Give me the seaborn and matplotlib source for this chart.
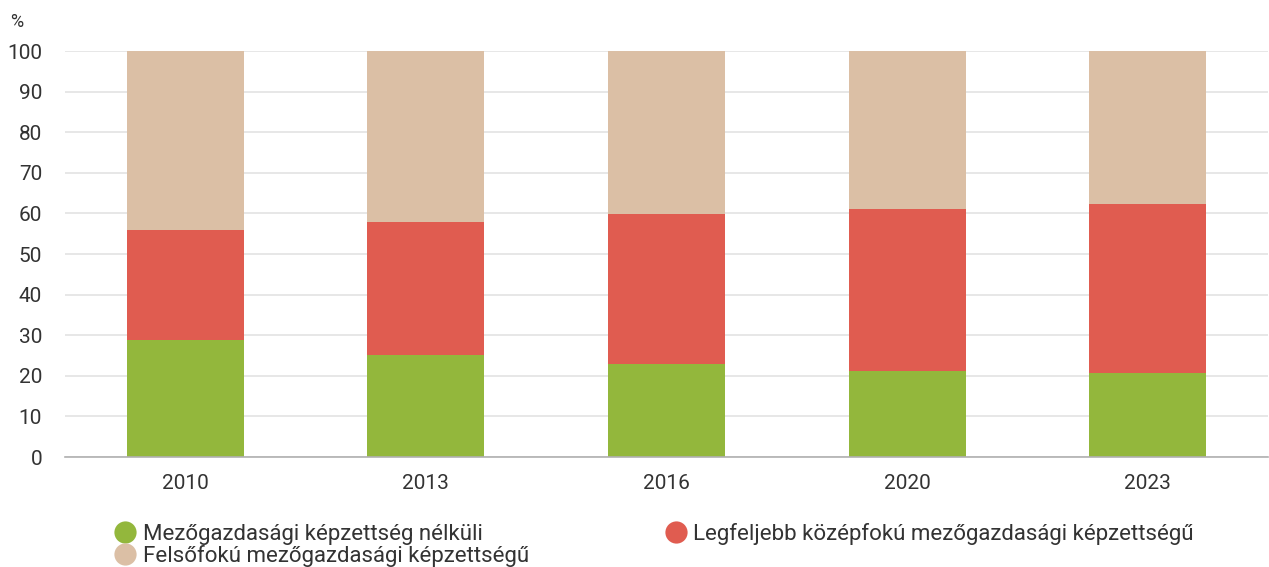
import matplotlib
matplotlib.use("Agg")
import matplotlib.pyplot as plt
import seaborn as sns
import numpy as np
from matplotlib.lines import Line2D

sns.set_theme(style="white")
plt.rcParams['font.family'] = ['Roboto', 'DejaVu Sans']

# adatok
years = ["2010", "2013", "2016", "2020", "2023"]
nelkuli = [28.7, 25.2, 22.9, 21.2, 20.8]
kozepfoku = [27.1, 32.7, 36.9, 39.8, 41.4]
felsofoku = [44.2, 42.1, 40.2, 39.0, 37.8]

labels = [
    "Mezőgazdasági képzettség nélküli",
    "Legfeljebb középfokú mezőgazdasági képzettségű",
    "Felsőfokú mezőgazdasági képzettségű",
]
colors = ["#93b73c", "#e05c50", "#dbbfa5"]

fig = plt.figure(figsize=(12.69, 5.67), dpi=100)
ax = fig.add_axes([0.0512, 0.194, 0.948, 0.716])

bottom = np.zeros(len(years))
for vals, col in zip([nelkuli, kozepfoku, felsofoku], colors):
    sns.barplot(x=years, y=vals, bottom=bottom, color=col, width=0.486,
                saturation=1, linewidth=0, ax=ax)
    bottom = bottom + np.array(vals)

ax.set_ylim(0, 100)
ax.set_xlim(-0.5, len(years) - 0.5)
ax.set_yticks(range(0, 101, 10))
ax.yaxis.grid(True, color="#e3e3e3", linewidth=1.2)
ax.set_axisbelow(True)
for s in ["top", "right", "left"]:
    ax.spines[s].set_visible(False)
ax.spines["bottom"].set_color("#b0b0b0")
ax.spines["bottom"].set_linewidth(1.2)

ax.tick_params(axis="y", length=0, labelsize=15, labelcolor="#333333", pad=16.5)
ax.tick_params(axis="x", which="major", length=0, labelsize=15, labelcolor="#333333", pad=12)
ax.set_xticks(np.arange(-0.5, len(years)), minor=True)
ax.tick_params(axis="x", which="minor", length=8, color="#b0b0b0", width=1.2)

fig.text(0.008, 0.961, "%", fontsize=13, color="#333333", va="center")

handles = [Line2D([], [], marker="o", linestyle="", markersize=16,
                  markerfacecolor=c, markeredgewidth=0) for c in colors]
order = [0, 2, 1]
fig.legend([handles[i] for i in order], [labels[i] for i in order],
           loc="lower left", bbox_to_anchor=(0.0723, -0.035), ncol=2,
           frameon=False, fontsize=16, labelcolor="#333333",
           handletextpad=0.2, columnspacing=6.0, labelspacing=0.0,
           handlelength=1.2)

ax.set_xlabel("")
ax.set_ylabel("")
fig.savefig("out.png", dpi=100)
